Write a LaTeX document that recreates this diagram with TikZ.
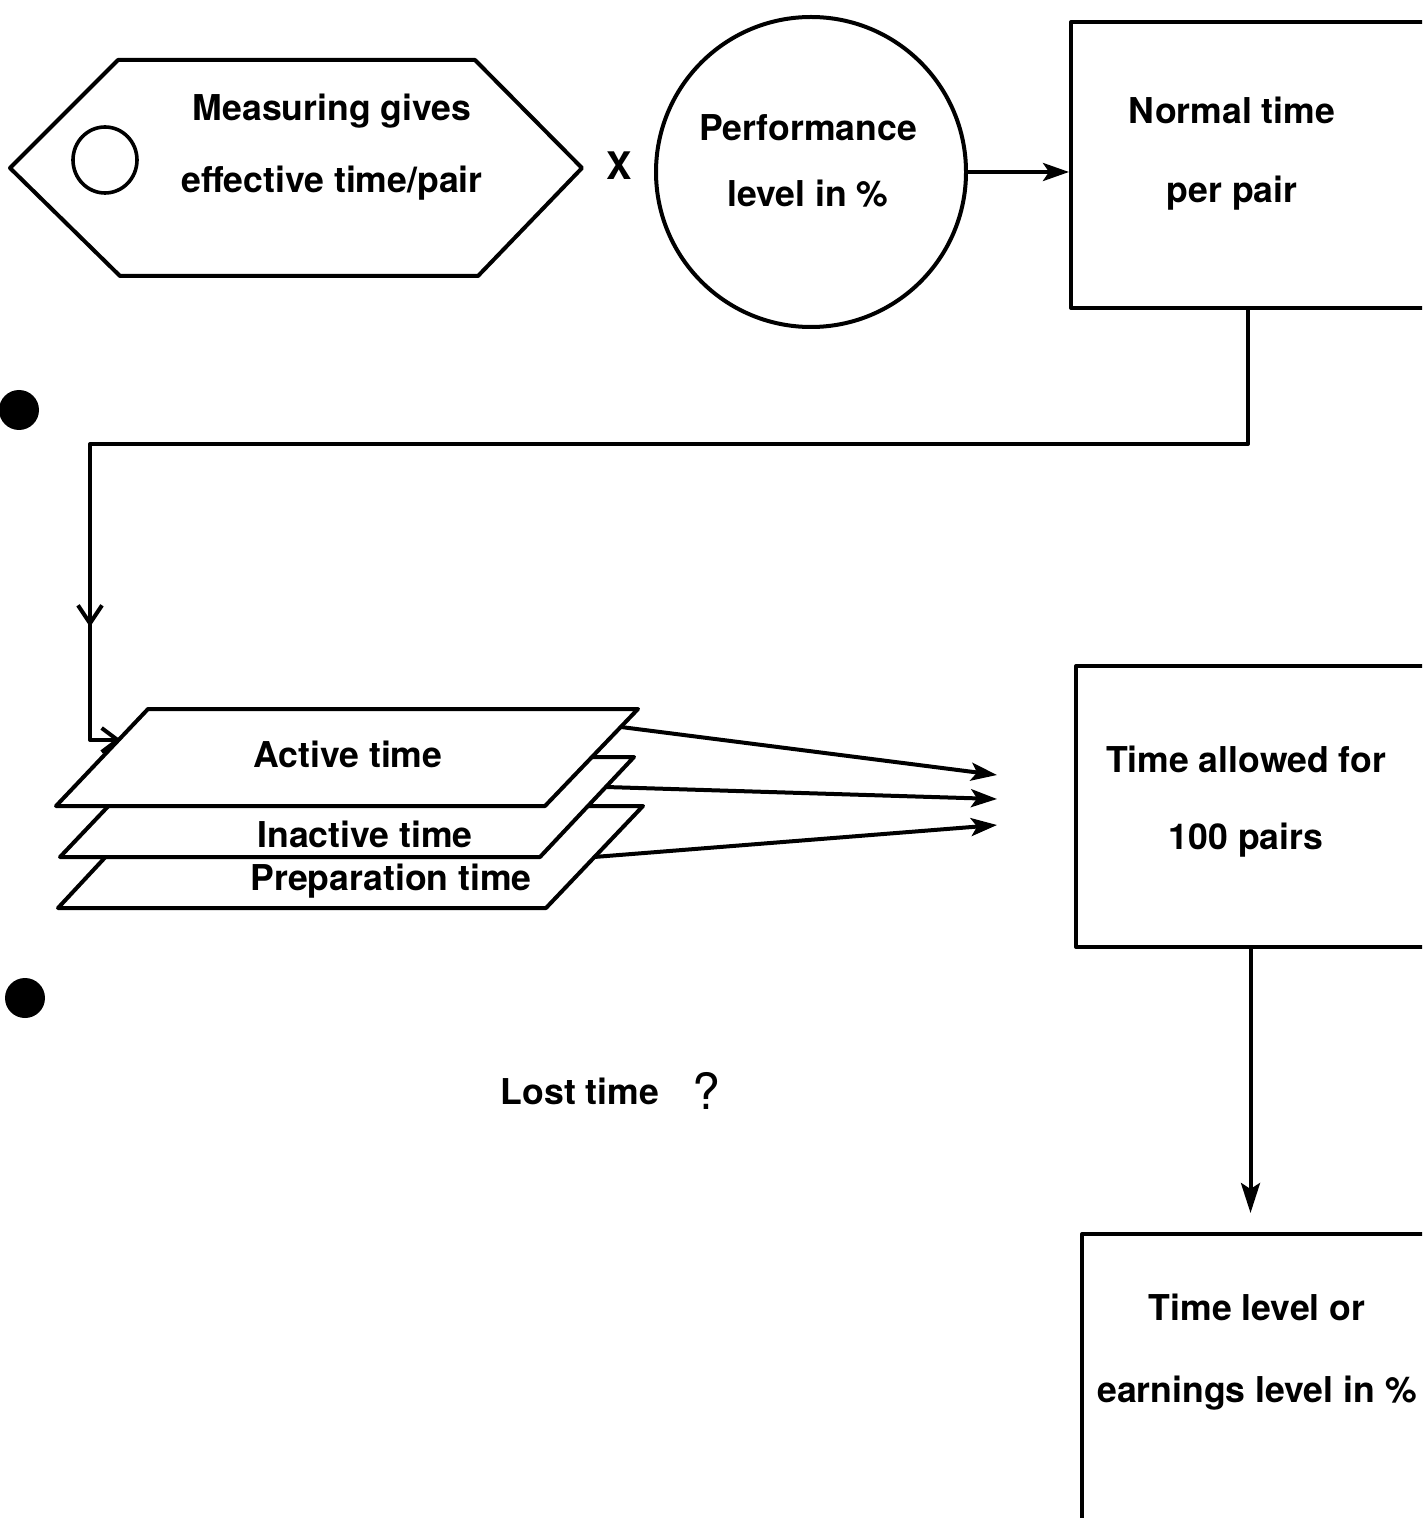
\documentclass[tikz,border=0pt]{standalone}
\usepackage{fontspec}
\setmainfont{TeX Gyre Heros}
\usetikzlibrary{arrows.meta,decorations.markings}
\begin{document}
\begin{tikzpicture}[x=0.5pt,y=-0.5pt, line width=2pt, line join=round,
  lbl/.style={font=\bfseries\fontsize{17.8}{#1}\selectfont, align=center, inner sep=0pt},
  lbl/.default=21,
  boxnode/.style={draw, rectangle, inner sep=0pt},
  tip/.style={-{Stealth[length=13pt,width=9pt,inset=3pt]}},
  downtip/.style={-{Stealth[length=15pt,width=9.5pt,inset=3pt]}},
  barb/.style={-{Straight Barb[length=8pt,width=12pt,line width=2pt]}},
  midbarb/.style={postaction={decorate},
    decoration={markings, mark=at position #1 with {\arrow{Straight Barb[length=9pt,width=12pt,line width=2pt]}}}},
]
\clip (0,0) rectangle (1422,1518);
\fill[white] (0,0) rectangle (1422,1518);

% measuring hexagon with its stopwatch circle
\draw (10,168) -- (118,60) -- (475,60) -- (582,168) -- (478,276) -- (120,276) -- cycle;
\draw[line width=1.8pt] (105,160) ellipse [x radius=32, y radius=33];
\node[lbl=36] (meas) at (332,147) {Measuring gives\\effective time/pair};

\node[lbl, font=\bfseries\fontsize{19}{22}\selectfont] (times) at (619,166) {X};

% performance level
\node[draw, circle, minimum size=155pt, inner sep=0pt] (perf) at (811,172) {};
\node[lbl=33] (perft) at (808,161) {Performance\\level in \%};

% normal time box
\node[boxnode, minimum width=177pt, minimum height=143pt] (nt) at (1248,165) {};
\node[lbl=39.5] (ntt) at (1232,153.5) {Normal time\\per pair};

\draw[tip] (perf.east) -- (perf.east -| nt.west);

% bullets
\fill (19,410) circle [radius=20];
\fill (25,998) circle [radius=20];

% stacked time categories
\draw[fill=white] (58,908) -- (153,806) -- (643,806) -- (546,908) -- cycle;
\draw[fill=white] (60,857) -- (155,757) -- (634,757) -- (540,857) -- cycle;
\draw[fill=white] (56,806) -- (148,709) -- (638,709) -- (545,806) -- cycle;
\node[lbl] (act) at (348,754) {Active time};
\node[lbl] (inact) at (365,834) {Inactive time};
\node[lbl] (prep) at (391,881) {Preparation time};

\coordinate (actin) at (121,740);
\coordinate (bend) at (90,444);
\coordinate (aout) at (621,727);
\coordinate (iout) at (606,787);
\coordinate (pout) at (594,857);
\coordinate (t1) at (997,775);
\coordinate (t2) at (997,799);
\coordinate (t3) at (997,825);

\draw[barb, midbarb=0.911] (nt.south) |- (bend) |- (actin);

\draw[tip] (aout) -- (t1);
\draw[tip] (iout) -- (t2);
\draw[tip] (pout) -- (t3);

% time allowed box
\node[boxnode, minimum width=174.5pt, minimum height=140.5pt] (at) at (1250.5,806.5) {};
\node[lbl=38.5] (att) at (1246,801.5) {Time allowed for\\100 pairs};

% time level box
\node[boxnode, minimum width=171.5pt, minimum height=148pt] (tl) at (1253.5,1382) {};
\node[lbl=41] (tlt) at (1257,1352) {Time level or\\earnings level in \%};

\draw[downtip, shorten >=9.5pt] (at.south) -- (at.south |- tl.north);

% lost time
\node[lbl] (lost) at (580,1091) {Lost time};
\node[font=\fontsize{25}{28}\selectfont, inner sep=0pt] (q) at (706,1091) {?};
\end{tikzpicture}
\end{document}
